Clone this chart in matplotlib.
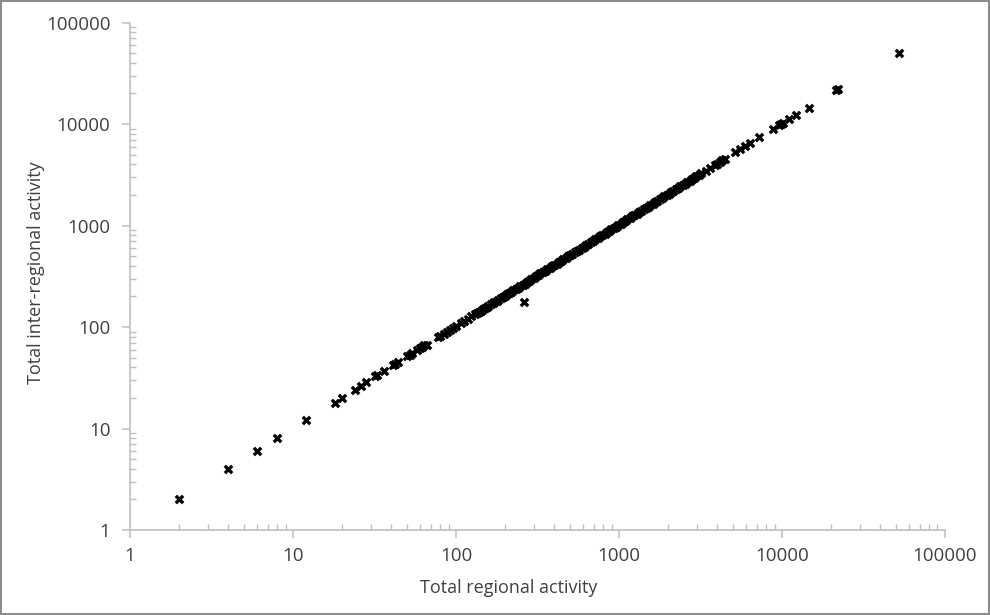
import matplotlib
matplotlib.use("Agg")
import matplotlib.pyplot as plt
from matplotlib.ticker import LogLocator, FixedLocator, FixedFormatter, NullFormatter
from matplotlib.patches import Rectangle

# Total regional activity (x) and total inter-regional activity (y)
regional = [
    2, 4, 6, 8, 12, 18, 20, 24, 26, 28, 32, 33, 36, 41, 42, 44, 50, 52, 54, 58,
    60, 62, 64, 66, 78, 80, 84, 88, 92, 96, 100, 108, 112, 118, 124, 130,
    134, 138, 142, 146, 150, 154, 158, 164, 168, 172, 178, 182, 188, 194, 200,
    206, 212, 218, 224, 232, 240, 248, 256, 264, 272, 280, 290, 300, 310, 320,
    330, 340, 352, 364, 376, 388, 400, 414, 428, 442, 456, 470, 486, 502, 518,
    534, 552, 570, 590, 610, 630, 650, 672, 694, 716, 740, 764, 790, 816, 842,
    870, 898, 928, 958, 990, 1022, 1056, 1090, 1126, 1164, 1202, 1242, 1284,
    1326, 1370, 1416, 1462, 1510, 1560, 1612, 1666, 1720, 1778, 1836, 1896,
    1960, 2024, 2092, 2160, 2232, 2306, 2382, 2460, 2542, 2626, 2712, 2802,
    2894, 2990, 3090, 3200, 3420, 3600, 3870, 4000, 4170, 4300, 4470, 5150,
    5530, 5930, 6360, 7260, 8770, 9600, 9860, 10100, 11090, 12130, 14650,
    21500, 22200, 52400, 260,
]
inter_regional = [
    2, 4, 6, 8, 12, 18, 20, 24, 26, 29, 33, 34, 37, 42, 43, 45, 52, 53, 55, 59,
    62, 63, 66, 67, 80, 82, 86, 90, 94, 98, 103, 110, 115, 120, 127, 133,
    137, 141, 145, 150, 153, 158, 161, 168, 171, 176, 181, 186, 191, 198, 204,
    210, 216, 222, 229, 236, 245, 252, 262, 268, 278, 285, 296, 305, 317, 326,
    337, 346, 360, 371, 384, 395, 409, 421, 437, 450, 466, 478, 496, 511, 529,
    543, 564, 580, 603, 620, 643, 662, 686, 706, 731, 753, 780, 804, 833, 857,
    888, 914, 947, 975, 1010, 1040, 1078, 1110, 1149, 1185, 1227, 1264, 1310,
    1350, 1398, 1442, 1492, 1538, 1592, 1641, 1700, 1751, 1814, 1869, 1935,
    1995, 2065, 2130, 2204, 2272, 2353, 2425, 2510, 2588, 2680, 2761, 2860,
    2946, 3050, 3145, 3260, 3480, 3670, 3940, 4080, 4250, 4380, 4550, 5250,
    5630, 6040, 6480, 7390, 8930, 9780, 10040, 10290, 11300, 12360, 14460,
    21400, 21900, 50300, 175,
]

major_vals = [1, 10, 100, 1000, 10000, 100000]
major_labels = ["1", "10", "100", "1000", "10000", "100000"]

plt.rcParams['font.family'] = ['Open Sans', 'DejaVu Sans']

fig = plt.figure(figsize=(9.9, 6.15), dpi=100)
ax = fig.add_axes([0.1313, 0.1382, 0.8232, 0.8252])

ax.scatter(regional, inter_regional, marker='x', s=28, linewidths=2.4,
           color='black', zorder=3)

ax.set_xscale('log')
ax.set_yscale('log')
ax.set_xlim(1, 100000)
ax.set_ylim(1, 100000)

grey = '#bfbfbf'
for s in ['top', 'right']:
    ax.spines[s].set_visible(False)
for s in ['left', 'bottom']:
    ax.spines[s].set_color(grey)
    ax.spines[s].set_linewidth(1.2)

for axis in (ax.xaxis, ax.yaxis):
    axis.set_major_locator(FixedLocator(major_vals))
    axis.set_major_formatter(FixedFormatter(major_labels))
    axis.set_minor_locator(LogLocator(base=10, subs=range(2, 10), numticks=20))
    axis.set_minor_formatter(NullFormatter())

ax.tick_params(which='major', direction='out', length=6, width=1.1, color=grey,
               labelsize=13.5, labelcolor='#404040')
ax.tick_params(axis='y', which='major', pad=8)
ax.tick_params(axis='x', which='major', pad=6)
ax.tick_params(which='minor', direction='in', length=4, width=1.0, color=grey)

ax.set_xlabel('Total regional activity', fontsize=13, color='#404040', labelpad=10)
ax.set_ylabel('Total inter-regional activity', fontsize=13, color='#404040', labelpad=1)
ax.xaxis.label.set_x(0.4644)
ax.yaxis.label.set_y(0.508)

fig.patches.append(Rectangle((0.001, 0.001), 0.998, 0.997, transform=fig.transFigure,
                             fill=False, edgecolor='#8c8c8c', linewidth=1.5))

fig.savefig('out.png', dpi=100)
